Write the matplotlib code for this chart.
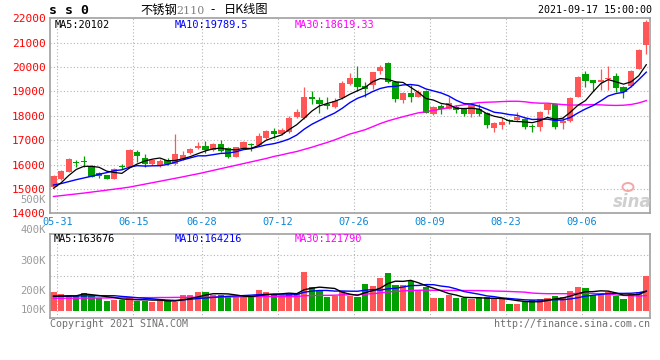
import numpy as np
import pandas as pd
import matplotlib
matplotlib.use('Agg')
import matplotlib.pyplot as plt
from matplotlib.patches import Ellipse

# ---------------- data ----------------
date_labels = ['05-31', '06-15', '06-28', '07-12', '07-26', '08-09', '08-23', '09-06']
label_idx = [0, 10, 19, 29, 39, 49, 59, 69]
price_ticks = [14000, 15000, 16000, 17000, 18000, 19000, 20000, 21000, 22000]
vol_tick_labels = ['400K', '300K', '200K', '100K']

open_ = [15080, 15407, 15708, 16110, 16130, 15954, 15640, 15571, 15421, 15954,
         15913, 16529, 16269, 16009, 15982, 16187, 16009, 16228, 16460, 16665,
         16775, 16597, 16843, 16665, 16324, 16665, 16850, 16802, 17076, 17363,
         17254, 17322, 17937, 17896, 18771, 18648, 18498, 18347, 18717, 19304,
         19564, 19222, 19264, 19838, 20153, 19373, 18648, 18949, 18785, 19017,
         18060, 18402, 18293, 18375, 18265, 18073, 18265, 18128, 17485, 17622,
         17827, 17827, 17868, 17581, 17554, 18237, 18470, 17690, 17786, 18785,
         19701, 19468, 19400, 19496, 19632, 19195, 19222, 19920, 20905]
high = [15560, 15790, 16282, 16190, 16365, 15980, 15700, 15590, 15840, 16023,
        16620, 16597, 16433, 16228, 16228, 16282, 17240, 16570, 16680, 16939,
        16966, 16880, 17007, 16734, 16740, 16950, 16898, 17308, 17420, 17513,
        17486, 17992, 18265, 19168, 19031, 18758, 18758, 18717, 19441, 19769,
        20043, 19400, 19811, 20084, 20221, 19428, 18990, 19264, 19058, 19058,
        18416, 18471, 18758, 18443, 18300, 18511, 18470, 18169, 17759, 17923,
        17868, 18142, 17896, 17663, 18210, 18539, 18511, 17964, 18785, 19640,
        19838, 19480, 19906, 20057, 19769, 19222, 19880, 20720, 21930]
low = [15040, 15380, 15680, 15910, 15913, 15480, 15435, 15400, 15400, 15804,
       15886, 16118, 15913, 15982, 15913, 15982, 15982, 16180, 16430, 16620,
       16460, 16570, 16501, 16282, 16300, 16640, 16570, 16761, 17050, 17076,
       17212, 17281, 17896, 17880, 18484, 18101, 18265, 18320, 18700, 19250,
       19031, 18785, 19100, 19701, 19359, 18566, 18539, 18580, 18758, 18101,
       18033, 18060, 18279, 18129, 18000, 17964, 17991, 17513, 17348, 17458,
       17649, 17786, 17458, 17321, 17389, 18060, 17472, 17472, 17759, 18760,
       19180, 19017, 19058, 19058, 18962, 18744, 19195, 19900, 20522]
close = [15510, 15735, 16214, 16080, 16100, 15503, 15544, 15421, 15804, 15920,
         16597, 16365, 16036, 16187, 16159, 16023, 16433, 16378, 16638, 16761,
         16597, 16843, 16542, 16324, 16706, 16912, 16820, 17171, 17390, 17267,
         17418, 17924, 18170, 18758, 18703, 18484, 18402, 18621, 19359, 19564,
         19195, 19086, 19783, 20016, 19400, 18689, 18949, 18785, 18990, 18129,
         18375, 18265, 18539, 18238, 18073, 18443, 18073, 17622, 17690, 17759,
         17786, 17964, 17554, 17526, 18169, 18470, 17554, 17786, 18743, 19605,
         19441, 19359, 19454, 19564, 19154, 18962, 19838, 20699, 21835]
# volume in thousands of lots
volume = [160, 140, 132, 123, 151, 126, 104, 84, 89, 89,
          113, 84, 84, 76, 89, 81, 76, 132, 132, 157,
          160, 132, 132, 123, 113, 113, 113, 173, 160, 140,
          123, 140, 151, 328, 202, 168, 113, 123, 168, 123,
          118, 224, 207, 274, 319, 216, 216, 249, 174, 197,
          109, 109, 132, 109, 104, 96, 104, 113, 104, 96,
          56, 56, 76, 89, 101, 106, 126, 113, 168, 199,
          190, 132, 146, 155, 123, 101, 140, 160, 294]

# moving-average values before enough bars exist
ma5_head = [15030, 15250, 15550, 15800]
ma10_head = [15160, 15220, 15300, 15380, 15450, 15520, 15600, 15670, 15750]
ma30_head = [14690, 14725, 14760, 14795, 14830, 14870, 14910, 14950, 14990, 15030,
             15075, 15135, 15195, 15255, 15315, 15375, 15435, 15495, 15560, 15620,
             15690, 15760, 15830, 15900, 15970, 16040, 16110, 16180, 16250]
vma5_head = [122, 123, 124, 125]
vma10_head = [120, 121, 122, 123, 124, 125, 126, 126, 126]
vma30_head = [104, 104, 105, 105, 106, 106, 107, 107, 108, 108,
              109, 109, 110, 110, 111, 111, 112, 112, 113, 113,
              114, 114, 115, 116, 116, 117, 118, 118, 119]

# ---------------- helpers ----------------
W, H = 660, 360
RED = '#ff5757'
GREEN = '#00a000'
GRID = '#b4b4b4'
SPINE = '#a0a0a0'
MONO = 'DejaVu Sans Mono'
CJK = ['Noto Sans CJK SC', 'DejaVu Sans']


def fx(x):
    return x / W


def fy(y):
    return 1 - y / H


def moving(values, n, head):
    s = pd.Series(values, dtype=float).rolling(n).mean().to_numpy()
    s[:n - 1] = head
    return s


o = np.array(open_, float)
c = np.array(close, float)
hi = np.array(high, float)
lo = np.array(low, float)
v = np.array(volume, float)
n = len(c)
x = np.arange(n)
col = np.where(c >= o, RED, GREEN)

ma5 = moving(c, 5, ma5_head)
ma10 = moving(c, 10, ma10_head)
ma30 = moving(c, 30, ma30_head)
vma5 = moving(v, 5, vma5_head)
vma10 = moving(v, 10, vma10_head)
vma30 = moving(v, 30, vma30_head)

fig = plt.figure(figsize=(6.6, 3.6), dpi=100)
fig.patch.set_facecolor('white')

ax = fig.add_axes([fx(50), fy(213.3), fx(600), 195.0 / H])
axv = fig.add_axes([fx(50), fy(318.3), fx(600), 84.0 / H])

xl = (-3.5 / 7.6, 596.5 / 7.6)
for a in (ax, axv):
    a.set_xlim(*xl)
    for s in a.spines.values():
        s.set_color(SPINE)
        s.set_linewidth(1.2)
    a.tick_params(length=0)
    for gi in label_idx:
        a.axvline(gi + 0.5, color=GRID, lw=0.8, ls=(0, (1, 2)), zorder=0)

# ----- main price panel -----
ax.set_ylim(14000, 22000)
for tk in price_ticks[1:-1]:
    ax.axhline(tk, color=GRID, lw=0.8, ls=(0, (1, 2)), zorder=0)
ax.vlines(x, lo, hi, colors=col, lw=0.9, zorder=2)
body_bot = np.minimum(o, c)
body_h = np.maximum(np.abs(c - o), 40)
ax.bar(x, body_h, bottom=body_bot, width=0.79, color=col, linewidth=0, zorder=2)
ax.plot(x, ma30, color='#ff00ff', lw=1.0, zorder=3)
ax.plot(x, ma10, color='#0000ff', lw=1.0, zorder=3)
ax.plot(x, ma5, color='black', lw=0.9, zorder=3)

ax.set_yticks(price_ticks)
ax.set_yticklabels([str(tk) for tk in price_ticks], color='#ff0000',
                   fontsize=8, family=MONO)
ax.tick_params(axis='y', pad=3)
ax.set_xticks([i + 0.5 for i in label_idx])
ax.set_xticklabels(date_labels, color='#0a88d8', fontsize=7.4, family=MONO)
ax.tick_params(axis='x', pad=2.5)

# ----- volume panel -----
vlo, vhi = -(318.3 - 310.7) * 8.4, (310.7 - 234.3) * 8.4
axv.set_ylim(vlo, vhi)
for f in (0.5, 0.75):
    axv.axhline(vlo + f * (vhi - vlo), color=GRID, lw=0.8, ls=(0, (1, 2)), zorder=0)
axv.bar(x, v, width=0.79, color=col, linewidth=0, zorder=2)
axv.plot(x, vma30, color='#ff00ff', lw=1.0, zorder=3)
axv.plot(x, vma10, color='#0000ff', lw=1.0, zorder=3)
axv.plot(x, vma5, color='black', lw=1.0, zorder=3)
axv.set_xticks([])
axv.set_yticks([])
for lab, yy in zip(vol_tick_labels, [230, 260.7, 290.7, 310]):
    fig.text(fx(46), fy(yy), lab, ha='right', va='center', color='#9a9a9a',
             fontsize=7.6, family=MONO)
fig.text(fx(46), fy(200), '500K', ha='right', va='center', color='#9a9a9a',
         fontsize=7.6, family=MONO)

# ----- header texts -----
def t(xp, yp, s, color='black', size=7.4, **kw):
    kw.setdefault('family', MONO)
    fig.text(fx(xp), fy(yp), s, color=color, fontsize=size, va='center', **kw)

t(55, 24.5, 'MA5:20102')
t(175, 24.5, 'MA10:19789.5', color='#0000ff')
t(295, 24.5, 'MA30:18619.33', color='#ff00ff')
t(54, 238.5, 'MA5:163676')
t(175, 238.5, 'MA10:164216', color='#0000ff')
t(295, 238.5, 'MA30:121790', color='#ff00ff')

t(49, 10, 's s 0', size=9.5, weight='bold')
t(140, 10, '不锈钢', size=8.8, family=CJK)
t(176.5, 10.5, '2110', color='#808080', size=7.9, family='DejaVu Serif')
t(210, 10, '-', size=8.8, family=CJK)
t(224, 10, '日K线图', size=8.8, family=CJK)
t(652, 10, '2021-09-17 15:00:00', size=7.2, ha='right')

t(50, 324, 'Copyright 2021 SINA.COM', color='#707070', size=7.2)
t(650, 324, 'http://finance.sina.com.cn', color='#707070', size=7.2, ha='right')

# sina watermark
t(632, 202, 'sina', color='#cfcfcf', size=12, ha='center', weight='bold',
  style='italic', family='DejaVu Sans')
fig.add_artist(Ellipse((fx(628), fy(187)), 11 / W, 8 / H, fill=False,
                       ec='#f3a8a8', lw=1.4))

fig.savefig('out.png', dpi=100)
